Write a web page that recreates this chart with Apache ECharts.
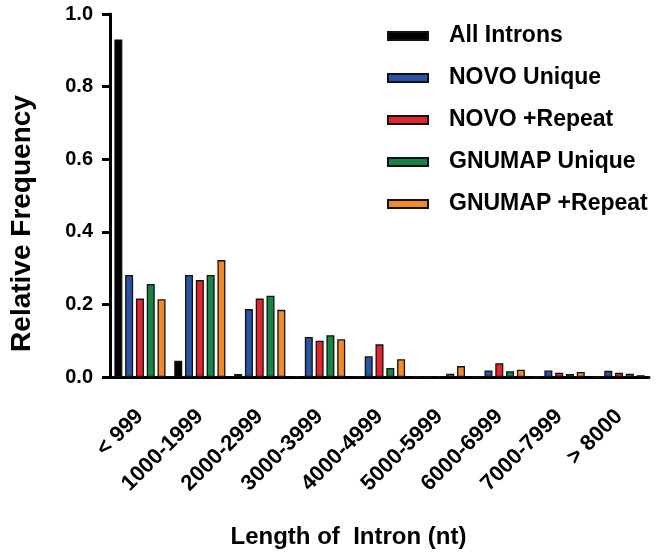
<!DOCTYPE html>
<html>
<head>
<meta charset="utf-8">
<script src="https://cdn.jsdelivr.net/npm/echarts@6/dist/echarts.min.js"></script>
<style>
html,body{margin:0;padding:0;background:#fff;}
#chart{width:660px;height:555px;}
</style>
</head>
<body>
<div id="chart"></div>
<script>
const categories = ['< 999','1000-1999','2000-2999','3000-3999','4000-4999','5000-5999','6000-6999','7000-7999','> 8000'];
const allIntrons   = [0.930, 0.045, 0.008, 0.002, 0, 0, 0, 0, 0];
const novoUnique   = [0.281, 0.281, 0.187, 0.110, 0.057, 0, 0.018, 0.018, 0.017];
const novoRepeat   = [0.216, 0.267, 0.216, 0.100, 0.090, 0, 0.038, 0.012, 0.012];
const gnumapUnique = [0.256, 0.281, 0.224, 0.115, 0.025, 0.009, 0.016, 0.008, 0.009];
const gnumapRepeat = [0.214, 0.322, 0.185, 0.104, 0.049, 0.030, 0.020, 0.014, 0.005];
const seriesNames = ['All Introns','NOVO Unique','NOVO +Repeat','GNUMAP Unique','GNUMAP +Repeat'];
const yTicks = [0, 0.2, 0.4, 0.6, 0.8, 1.0];

const colors = ['#000000','#2b53a4','#e2262c','#168446','#f08a2c'];
const FONT = '"Liberation Sans", Arial, sans-serif';
const dataSets = [allIntrons, novoUnique, novoRepeat, gnumapUnique, gnumapRepeat];

const chart = echarts.init(document.getElementById('chart'), null, {renderer:'canvas'});
chart.setOption({
  animation: false,
  backgroundColor: '#fff',
  textStyle: {fontFamily: FONT},
  legend: {
    orient: 'vertical',
    left: 382,
    top: 19,
    itemWidth: 40,
    itemHeight: 8,
    itemGap: 18,
    icon: 'rect',
    data: seriesNames,
    textStyle: {fontFamily: FONT, fontWeight: 'bold', fontSize: 23, color: '#000', lineHeight: 24, padding: [0,0,0,16]}
  },
  grid: {left: 105, right: 11, top: 14, bottom: 178, containLabel: false},
  xAxis: {
    type: 'category',
    data: categories,
    name: 'Length of  Intron (nt)',
    nameLocation: 'middle',
    nameGap: 148,
    nameTextStyle: {fontFamily: FONT, fontWeight: 'bold', fontSize: 24, color: '#000', padding: [0, 62, 0, 0]},
    axisLine: {lineStyle: {color: '#000', width: 3}},
    axisTick: {alignWithLabel: true, length: 8, lineStyle: {color: '#000', width: 3}},
    axisLabel: {rotate: 45, fontFamily: FONT, fontWeight: 'bold', fontSize: 22, color: '#000', margin: 36}
  },
  yAxis: {
    type: 'value',
    min: 0, max: 1, interval: 0.2,
    name: 'Relative Frequency',
    nameLocation: 'middle',
    nameGap: 74,
    nameRotate: 90,
    nameTextStyle: {fontFamily: FONT, fontWeight: 'bold', fontSize: 28, color: '#000', padding: [0, 56, 0, 0]},
    axisLine: {show: true, lineStyle: {color: '#000', width: 3}},
    axisTick: {show: true, length: 8, lineStyle: {color: '#000', width: 3}},
    splitLine: {show: false},
    axisLabel: {fontFamily: FONT, fontWeight: 'bold', fontSize: 20, color: '#000', margin: 17,
      formatter: v => yTicks.includes(Math.round(v*10)/10) ? v.toFixed(1) : ''}
  },
  series: seriesNames.map((n, i) => ({
    name: n,
    type: 'bar',
    data: dataSets[i],
    barWidth: 8,
    barGap: '35%',
    itemStyle: {color: colors[i], borderColor: '#111', borderWidth: 1.3}
  }))
});
</script>
</body>
</html>
